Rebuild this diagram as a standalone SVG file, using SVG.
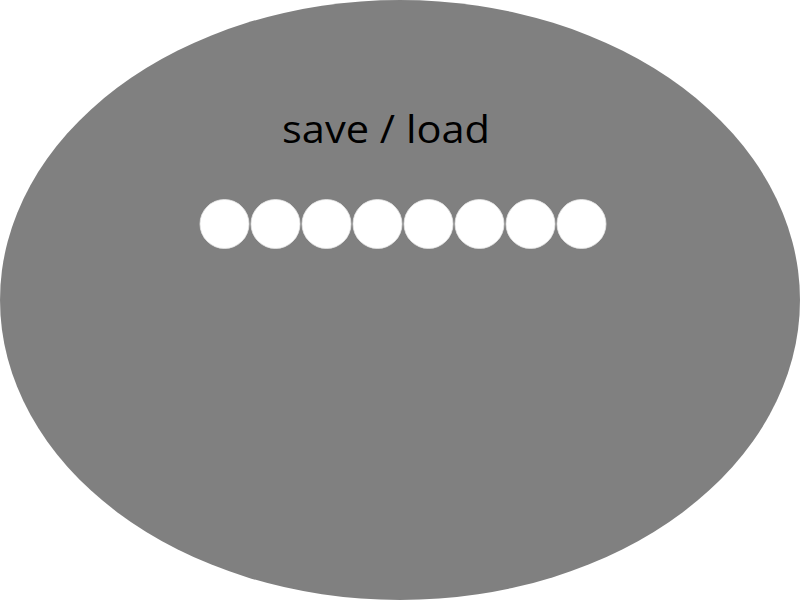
<svg xmlns="http://www.w3.org/2000/svg" width="800" height="600" viewBox="0 0 800 600">
<style>
.dot{fill:#ffffff;stroke:#e6e6e6;stroke-width:0.8}
.lbl{font-family:"Open Sans","Liberation Sans",sans-serif;font-size:39px;fill:#000000}
</style>
<rect width="800" height="600" fill="#ffffff"/>
<g id="ellipse"><ellipse cx="400" cy="300" rx="400" ry="300" fill="#808080"/></g>
<g id="label"><text class="lbl" x="386" y="143" text-anchor="middle" textLength="208" lengthAdjust="spacingAndGlyphs">save / load</text></g>
<g id="dots">
<circle class="dot" cx="224.5" cy="224" r="24.5"/>
<circle class="dot" cx="275.5" cy="224" r="24.5"/>
<circle class="dot" cx="326.5" cy="224" r="24.5"/>
<circle class="dot" cx="377.5" cy="224" r="24.5"/>
<circle class="dot" cx="428.5" cy="224" r="24.5"/>
<circle class="dot" cx="479.5" cy="224" r="24.5"/>
<circle class="dot" cx="530.5" cy="224" r="24.5"/>
<circle class="dot" cx="581.5" cy="224" r="24.5"/>
</g>
<g id="connectors"></g>
</svg>
